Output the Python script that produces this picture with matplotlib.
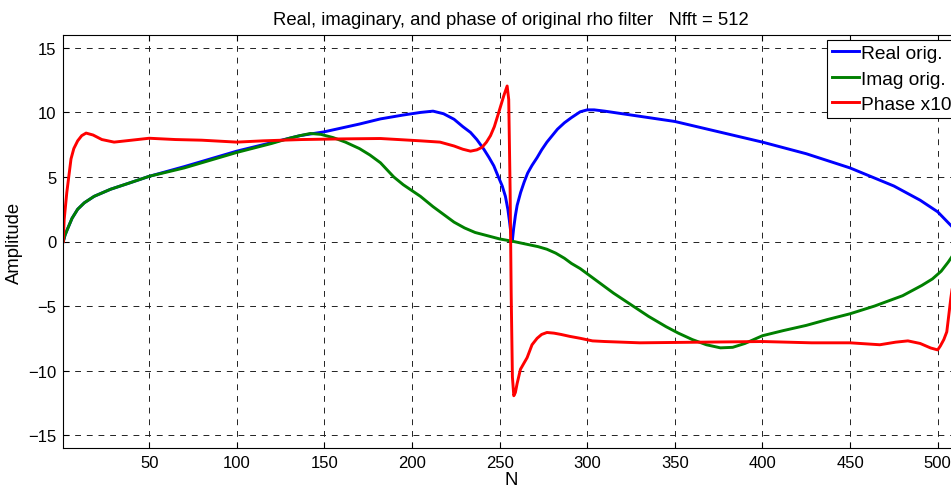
import matplotlib
matplotlib.use("Agg")
import matplotlib.pyplot as plt

# values
real_n = [1, 2, 3.5, 6, 9.2, 13, 18.6, 28, 38, 50, 70, 100, 136, 150, 170,
          182, 195, 204.8, 212, 218, 224, 229, 233.4, 237, 241, 244, 246.7,
          249, 251.5, 253.3, 254.7, 255.6, 256.3, 257.3, 258, 259, 260, 262,
          264, 266, 268.5, 271.4, 274, 277, 280, 283, 287, 291, 296, 300, 304,
          310, 320, 350, 375, 400, 425, 450, 475, 490, 500, 505, 510, 512]
real_v = [0, 0.5, 1.0, 1.8, 2.5, 3.0, 3.5, 4.05, 4.5, 5.05, 5.8, 7.0, 8.2,
          8.5, 9.1, 9.5, 9.8, 10.0, 10.1, 9.9, 9.47, 8.9, 8.45, 7.9, 7.15,
          6.5, 5.86, 5.1, 4.3, 3.5, 2.5, 1.6, 0.8, 0.1, 1.0, 2.0, 2.8, 3.8,
          4.6, 5.3, 5.9, 6.5, 7.1, 7.7, 8.2, 8.7, 9.2, 9.6, 10.05, 10.2, 10.2,
          10.1, 9.9, 9.3, 8.5, 7.7, 6.8, 5.7, 4.3, 3.2, 2.3, 1.6, 0.9, 0.5]

imag_n = [1, 2, 3.5, 6, 9.2, 13, 18.6, 28, 38, 50, 70, 100, 120, 130, 136,
          142, 148, 155, 162, 170, 176, 182, 189.6, 195, 204.8, 212, 218, 224,
          230, 236, 243, 250, 258, 265, 272, 277, 282, 287, 291, 296, 302,
          308, 315, 325, 335, 345, 352, 360, 368, 376, 383, 390, 400, 412,
          425, 437, 450, 464, 472, 480, 491, 497, 502, 506, 510, 512]
imag_v = [0, 0.5, 1.0, 1.8, 2.5, 3.0, 3.5, 4.05, 4.5, 5.05, 5.7, 6.9, 7.6,
          8.0, 8.2, 8.37, 8.3, 8.05, 7.7, 7.2, 6.7, 6.1, 5.0, 4.4, 3.5, 2.7,
          2.1, 1.5, 1.05, 0.7, 0.45, 0.2, 0, -0.2, -0.4, -0.6, -0.9, -1.3,
          -1.7, -2.1, -2.7, -3.3, -4.0, -4.9, -5.8, -6.6, -7.1, -7.6, -8.0,
          -8.24, -8.2, -7.9, -7.3, -6.9, -6.5, -6.05, -5.6, -5.0, -4.6, -4.2,
          -3.4, -2.9, -2.3, -1.6, -0.8, -0.4]

phase_n = [1, 1.5, 3, 5.4, 7, 9.2, 11.5, 14, 18, 23, 30, 40, 50, 65, 80, 100,
           115, 137, 160, 182, 204.8, 216, 224, 229, 233.4, 237, 240, 242.5,
           244.8, 247, 249.5, 252.4, 254.3, 255.2, 256.0, 256.6, 257.3, 258.1,
           259, 260, 261.9, 264, 265.7, 268.5, 271.4, 274, 277, 281, 285, 290,
           296, 303, 310, 330, 365, 400, 428, 450, 467, 476, 483, 490, 496,
           500, 501.5, 503.5, 505.2, 507.5, 510, 512]
phase_v = [0, 1.7, 3.8, 6.4, 7.2, 7.8, 8.2, 8.4, 8.25, 7.9, 7.7, 7.85, 8.0,
           7.9, 7.85, 7.7, 7.8, 7.9, 7.95, 7.98, 7.8, 7.7, 7.4, 7.15, 7.0, 7.1,
           7.3, 7.7, 8.2, 8.9, 10.0, 11.3, 12.05, 11.0, 4.0, -4.0, -10.5,
           -11.95, -11.7, -11.0, -9.9, -9.4, -9.0, -8.0, -7.5, -7.2, -7.05,
           -7.1, -7.2, -7.35, -7.5, -7.7, -7.75, -7.85, -7.8, -7.75, -7.85,
           -7.85, -8.0, -7.8, -7.7, -7.9, -8.25, -8.4, -8.1, -7.6, -7.0, -4.4,
           -2.0, 0]

x_ticks = [50, 100, 150, 200, 250, 300, 350, 400, 450, 500]
y_ticks = [-15, -10, -5, 0, 5, 10, 15]

plt.rcParams['font.family'] = ['Liberation Sans', 'DejaVu Sans']
plt.rcParams['font.size'] = 12

fig = plt.figure(figsize=(9.51, 4.89), dpi=100)
ax = fig.add_axes([63.3 / 951, 40 / 489, (958.7 - 63.3) / 951, (449 - 36) / 489])

ax.plot(real_n, real_v, color=(0, 0, 1), lw=2.1, label="Real orig.")
ax.plot(imag_n, imag_v, color=(0, 0.5, 0), lw=2.1, label="Imag orig.")
ax.plot(phase_n, phase_v, color=(1, 0, 0), lw=2.1, label="Phase x10")

ax.set_xlim(1, 512)
ax.set_ylim(-16, 16)
ax.set_xticks(x_ticks)
ax.set_yticks(y_ticks)
ax.tick_params(direction="in", length=4, width=0.8, top=True, right=True,
               labelsize=12, pad=5)
for s in ax.spines.values():
    s.set_linewidth(0.8)

ax.grid(True, color="#222222", linestyle=(0, (6, 6)), linewidth=0.7)

ax.set_title("Real, imaginary, and phase of original rho filter   Nfft = 512",
             fontsize=13.3, pad=8)
ax.set_xlabel("N", fontsize=13.3, labelpad=1)
ax.set_ylabel("Amplitude", fontsize=13.3, labelpad=4)

leg = ax.legend(loc="upper left", bbox_to_anchor=(0.853, 0.988),
                fancybox=False, edgecolor="black", framealpha=1,
                handlelength=1.4, handletextpad=0.12, borderpad=0.25,
                labelspacing=0.42, borderaxespad=0, fontsize=13.8)
leg.get_frame().set_linewidth(0.8)

fig.savefig("out.png", dpi=100)
